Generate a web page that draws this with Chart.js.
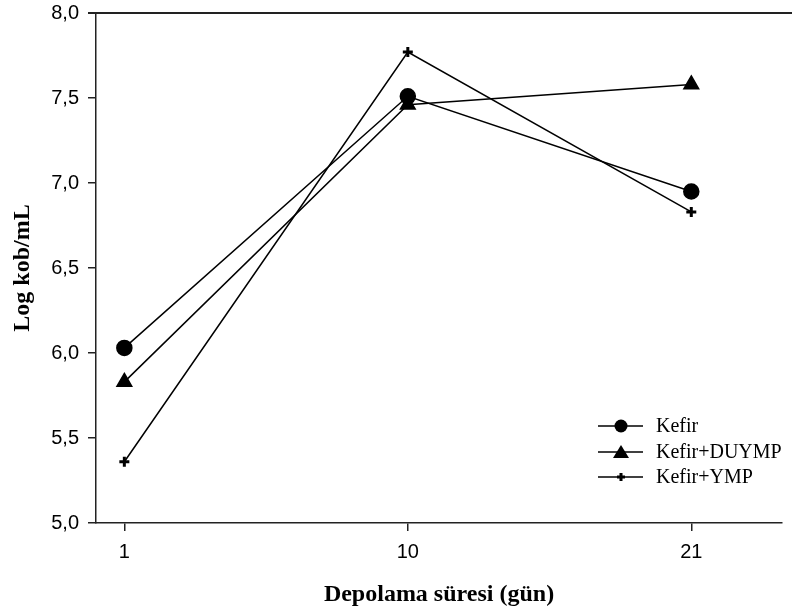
<!DOCTYPE html>
<html>
<head>
<meta charset="utf-8">
<script src="https://cdn.jsdelivr.net/npm/chart.js@4/dist/chart.umd.min.js"></script>
<style>
  html, body { margin: 0; padding: 0; background: #fff; }
</style>
</head>
<body>
<canvas id="myChart" width="792" height="611"></canvas>
<script>
/*==== data ====*/
const days = ['1', '10', '21'];
const kefir = [6.03, 7.51, 6.95];
const kefirDuymp = [5.83, 7.46, 7.58];
const kefirYmp = [5.36, 7.77, 6.83];
const yTicks = [5.0, 5.5, 6.0, 6.5, 7.0, 7.5, 8.0];

const axisColor = '#222';
const serif = '"Liberation Serif", "Times New Roman", serif';
const sans = '"Liberation Sans", Arial, sans-serif';

function pts(values) {
    return values.map(function (v, i) { return { x: i + 1, y: v }; });
}

/*==== legend drawn inside the plot, line + marker ====*/
const lineLegend = {
    id: 'lineLegend',
    afterDraw(chart) {
        const ctx = chart.ctx;
        const rows = [426, 452, 477];
        ctx.save();
        chart.data.datasets.forEach(function (ds, i) {
            const y = rows[i];
            ctx.strokeStyle = '#000';
            ctx.lineWidth = 1.5;
            ctx.beginPath();
            ctx.moveTo(598, y);
            ctx.lineTo(643, y);
            ctx.stroke();
            ctx.fillStyle = '#000';
            const cx = 621;
            if (ds.pointStyle === 'circle') {
                ctx.beginPath();
                ctx.arc(cx, y, 6.5, 0, Math.PI * 2);
                ctx.fill();
            } else if (ds.pointStyle === 'triangle') {
                ctx.beginPath();
                ctx.moveTo(cx, y - 7);
                ctx.lineTo(cx + 8, y + 6);
                ctx.lineTo(cx - 8, y + 6);
                ctx.closePath();
                ctx.fill();
            } else {
                ctx.lineWidth = 3;
                ctx.beginPath();
                ctx.moveTo(cx - 4, y);
                ctx.lineTo(cx + 4, y);
                ctx.moveTo(cx, y - 4);
                ctx.lineTo(cx, y + 4);
                ctx.stroke();
            }
            ctx.font = '20px ' + serif;
            ctx.textBaseline = 'middle';
            ctx.textAlign = 'left';
            ctx.fillText(ds.label, 656, y + 1);
        });
        ctx.restore();
    }
};

/*==== top frame line ====*/
const topLine = {
    id: 'topLine',
    afterDraw(chart) {
        const a = chart.chartArea;
        const ctx = chart.ctx;
        ctx.save();
        ctx.strokeStyle = axisColor;
        ctx.lineWidth = 2;
        ctx.beginPath();
        ctx.moveTo(a.left - 8, a.top);
        ctx.lineTo(792, a.top);
        ctx.stroke();
        ctx.restore();
    }
};

/*==== config ====*/
const config = {
    type: 'line',
    data: {
        datasets: [
            {
                label: 'Kefir',
                data: pts(kefir),
                pointStyle: 'circle',
                pointRadius: 7.5
            },
            {
                label: 'Kefir+DUYMP',
                data: pts(kefirDuymp),
                pointStyle: 'triangle',
                pointRadius: 8.5
            },
            {
                label: 'Kefir+YMP',
                data: pts(kefirYmp),
                pointStyle: 'cross',
                pointRadius: 5,
                pointBorderWidth: 3
            }
        ].map(function (d) {
            return Object.assign({
                borderColor: '#000',
                backgroundColor: '#000',
                pointBackgroundColor: '#000',
                pointBorderColor: '#000',
                borderWidth: 1.5,
                tension: 0
            }, d);
        })
    },
    options: {
        responsive: false,
        animation: false,
        layout: { padding: { top: 13, right: 4, left: 0, bottom: 0 } },
        plugins: {
            legend: { display: false },
            tooltip: { enabled: false }
        },
        scales: {
            x: {
                type: 'linear',
                min: 0.9,
                max: 3.32,
                afterBuildTicks(scale) {
                    scale.ticks = days.map(function (d, i) { return { value: i + 1 }; });
                },
                afterFit(scale) { scale.height = 88; },
                grid: { drawOnChartArea: false, drawTicks: true, tickLength: 8, color: axisColor, lineWidth: 1.5 },
                border: { display: true, color: axisColor, width: 1.5 },
                ticks: {
                    color: '#000',
                    padding: 9,
                    maxRotation: 0,
                    font: { family: sans, size: 20 },
                    callback: function (v) { return days[v - 1]; }
                },
                title: {
                    display: true,
                    text: 'Depolama süresi (gün)',
                    color: '#000',
                    font: { family: serif, size: 24, weight: 'bold' },
                    padding: { top: 0, bottom: 2 }
                }
            },
            y: {
                min: 5,
                max: 8,
                afterBuildTicks(scale) {
                    scale.ticks = yTicks.map(function (v) { return { value: v }; });
                },
                afterFit(scale) {
                    scale.width = 96;
                    scale.paddingTop = 0;
                    scale.paddingBottom = 0;
                },
                grid: { drawOnChartArea: false, drawTicks: true, tickLength: 8, color: axisColor, lineWidth: 1.5 },
                border: { display: true, color: axisColor, width: 1.5 },
                ticks: {
                    color: '#000',
                    padding: 9,
                    font: { family: sans, size: 20 },
                    callback: function (v) { return v.toFixed(1).replace('.', ','); }
                },
                title: {
                    display: true,
                    text: 'Log kob/mL',
                    color: '#000',
                    font: { family: serif, size: 24, weight: 'bold' },
                    padding: { top: 8, bottom: 0 }
                }
            }
        }
    },
    plugins: [topLine, lineLegend]
};

/*===== render =====*/
const myChart = new Chart(document.getElementById('myChart'), config);
</script>
</body>
</html>
